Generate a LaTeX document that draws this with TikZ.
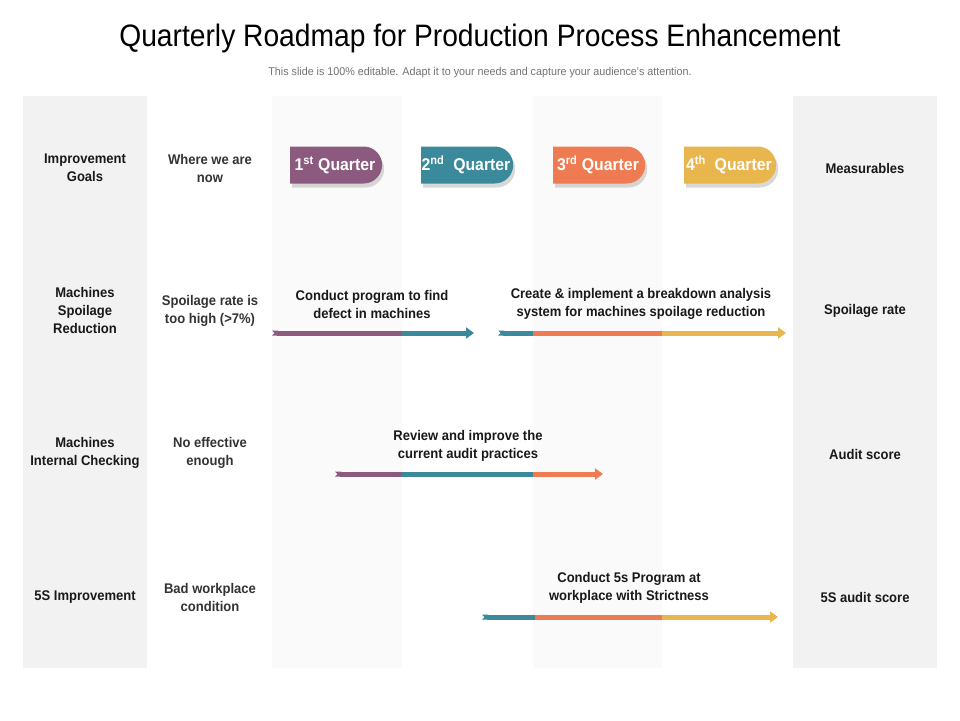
\documentclass[tikz,border=0pt]{standalone}
\usepackage{fontspec}
\setmainfont{Liberation Sans}[FakeStretch=0.93]
\newfontfamily\titlefont{Liberation Sans}[FakeStretch=0.91]
\newfontfamily\subfont{Liberation Sans}[FakeStretch=0.95]
\usetikzlibrary{shapes.misc,shadows,arrows.meta}
\definecolor{qpurple}{HTML}{8C5A7F}
\definecolor{qteal}{HTML}{3A8A9C}
\definecolor{qorange}{HTML}{EF7B52}
\definecolor{qyellow}{HTML}{E9B54D}
\definecolor{colgray}{HTML}{F2F2F2}
\definecolor{stripe}{HTML}{FAFAFA}
\begin{document}
\begin{tikzpicture}[x=1pt,y=-1pt,
  goal/.style={align=center,inner sep=0pt,text=black!90,font=\bfseries\fontsize{14}{18}\selectfont},
  now/.style={goal,text=black!80},
  tab/.style={rounded rectangle,rounded rectangle left arc=none,minimum width=92pt,minimum height=37pt,inner sep=0pt,text=white,font=\bfseries\fontsize{17}{19}\selectfont,drop shadow={shadow xshift=2pt,shadow yshift=-4pt,fill=black!30}},
  bar/.style={line width=5pt},
  head/.style={-{Triangle[length=8pt,width=11pt]}},
  tail/.style={{Triangle Cap[reversed]}-}]
\useasboundingbox (0,0) rectangle (960,720);
\fill[white] (0,0) rectangle (960,720);
% columns
\fill[colgray] (23,96) rectangle (147,668);
\fill[colgray] (793,96) rectangle (937,668);
\fill[stripe] (272,96) rectangle (402,668);
\fill[stripe] (533,96) rectangle (662,668);
% title
\node (title) at (480,38) {\titlefont\fontsize{31}{33}\selectfont Quarterly Roadmap for Production Process Enhancement};
\node[text=black!55] (sub) at (480,73) {\subfont\fontsize{11.3}{13}\selectfont This slide is 100\% editable. Adapt it to your needs and capture your audience's attention.};
% header row
\node[goal] (goals) at (85,168) {Improvement\\Goals};
\node[now] (where) at (210,168) {Where we are\\now};
\node[tab,fill=qpurple] (q1) at (335,165) {1\textsuperscript{st} Quarter};
\node[tab,fill=qteal] (q2) at (466,165) {2\textsuperscript{nd}\ \ Quarter};
\node[tab,fill=qorange] (q3) at (598,165) {3\textsuperscript{rd} Quarter};
\node[tab,fill=qyellow] (q4) at (729,165) {4\textsuperscript{th}\ \ Quarter};
\node[goal] (meas) at (865,168) {Measurables};
% spoilage
\node[goal] (spoil) at (85,310) {Machines\\Spoilage\\Reduction};
\node[now] (spoilnow) at (210,311) {Spoilage rate is\\too high (>7\%)};
\node[goal] (findtxt) at (372,304) {Conduct program to find\\defect in machines};
\node[goal] (breaktxt) at (641,304) {Create \& implement a breakdown analysis\\system for machines spoilage reduction};
\node[goal] (spoilm) at (865,311) {Spoilage rate};
\coordinate (a1) at (272,333);
\coordinate (a2) at (402,333);
\coordinate (a3) at (474,333);
\draw[bar,qpurple,tail] (a1) -- (a2);
\draw[bar,qteal,head] (a2) -- (a3);
\coordinate (b1) at (498,333);
\coordinate (b2) at (533,333);
\coordinate (b3) at (662,333);
\coordinate (b4) at (786,333);
\draw[bar,qteal,tail] (b1) -- (b2);
\draw[bar,qorange] (b2) -- (b3);
\draw[bar,qyellow,head] (b3) -- (b4);
% internal checking
\node[goal] (check) at (85,453) {Machines\\Internal Checking};
\node[now] (checknow) at (210,453) {No effective\\enough};
\node[goal] (audittxt) at (468,446) {Review and improve the\\current audit practices};
\node[goal] (auditm) at (865,454) {Audit score};
\coordinate (c1) at (335,474);
\coordinate (c2) at (402,474);
\coordinate (c3) at (533,474);
\coordinate (c4) at (603,474);
\draw[bar,qpurple,tail] (c1) -- (c2);
\draw[bar,qteal] (c2) -- (c3);
\draw[bar,qorange,head] (c3) -- (c4);
% 5S
\node[goal] (fives) at (85,597) {5S Improvement};
\node[now] (fivesnow) at (210,597) {Bad workplace\\condition};
\node[goal] (fivestxt) at (629,588) {Conduct 5s Program at\\workplace with Strictness};
\node[goal] (fivesm) at (865,597) {5S audit score};
\coordinate (d1) at (482,617);
\coordinate (d2) at (535,617);
\coordinate (d3) at (662,617);
\coordinate (d4) at (778,617);
\draw[bar,qteal,tail] (d1) -- (d2);
\draw[bar,qorange] (d2) -- (d3);
\draw[bar,qyellow,head] (d3) -- (d4);
\end{tikzpicture}
\end{document}
